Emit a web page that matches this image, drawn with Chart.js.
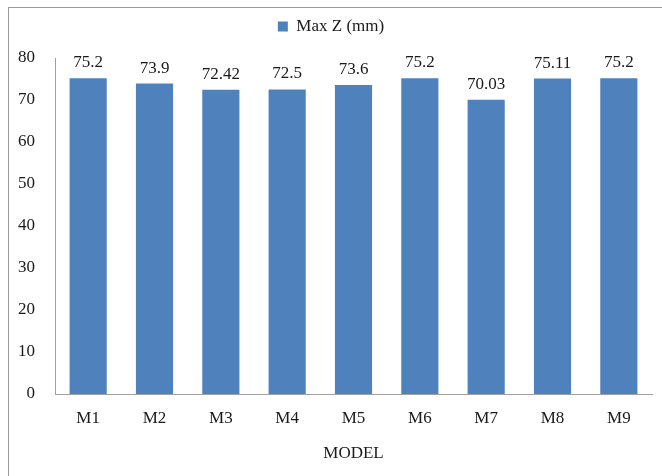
<!DOCTYPE html>
<html>
<head>
<meta charset="utf-8">
<script src="https://cdn.jsdelivr.net/npm/chart.js@4"></script>
<style>
  html, body { margin: 0; padding: 0; background: #fff; }
  #wrap { position: relative; width: 662px; height: 476px; overflow: hidden; }
  #frame { position: absolute; left: 8px; top: 7px; width: 700px; height: 520px;
           border-top: 1px solid #9a9a9a; border-left: 1px solid #9a9a9a; }
  canvas { position: absolute; left: 0; top: 0; }
</style>
</head>
<body>
<div id="wrap">
  <div id="frame"></div>
  <canvas id="c" width="662" height="476"></canvas>
</div>
<script>
const models = ['M1', 'M2', 'M3', 'M4', 'M5', 'M6', 'M7', 'M8', 'M9'];
const maxZ = [75.2, 73.9, 72.42, 72.5, 73.6, 75.2, 70.03, 75.11, 75.2];
const seriesName = 'Max Z (mm)';
const axisTitle = 'MODEL';

const serif = '"Liberation Serif", "Times New Roman", serif';

// Prints each bar's value above it
const valueLabels = {
  id: 'valueLabels',
  afterDatasetsDraw(chart) {
    const ctx = chart.ctx;
    const meta = chart.getDatasetMeta(0);
    ctx.save();
    ctx.font = '17px ' + serif;
    ctx.fillStyle = '#1a1a1a';
    ctx.textAlign = 'center';
    ctx.textBaseline = 'bottom';
    meta.data.forEach((bar, i) => {
      ctx.fillText(String(maxZ[i]), bar.x, bar.y - 7);
    });
    ctx.restore();
  }
};

// Reserves a fixed band for the legend so the plot starts lower
const legendBand = {
  id: 'legendBand',
  afterInit(chart) {
    const lg = chart.legend;
    if (!lg) return;
    const fit = lg.fit.bind(lg);
    lg.fit = function () { fit(); this.height = 52; };
  }
};

new Chart(document.getElementById('c'), {
  type: 'bar',
  data: {
    labels: models,
    datasets: [{
      label: seriesName,
      data: maxZ,
      backgroundColor: '#4F81BD',
      borderWidth: 0,
      barPercentage: 0.56,
      categoryPercentage: 1.0
    }]
  },
  options: {
    responsive: false,
    animation: false,
    layout: { padding: { left: 10, right: 10, top: 6, bottom: 0 } },
    plugins: {
      legend: {
        display: true,
        position: 'top',
        labels: {
          boxWidth: 10,
          boxHeight: 10,
          padding: 12,
          color: '#1a1a1a',
          font: { family: serif, size: 17 }
        }
      },
      tooltip: { enabled: false }
    },
    scales: {
      x: {
        grid: { display: false },
        border: { display: true, color: '#a0a0a0', width: 1 },
        ticks: { color: '#1a1a1a', font: { family: serif, size: 17 }, padding: 6 },
        title: { display: true, text: axisTitle, color: '#1a1a1a',
                 font: { family: serif, size: 17 }, padding: { top: 8, bottom: 12 } },
        afterFit(scale) { scale.height = 82; }
      },
      y: {
        min: 0,
        max: 80,
        grid: { display: false },
        border: { display: true, color: '#a0a0a0', width: 1 },
        ticks: { stepSize: 10, color: '#1a1a1a', font: { family: serif, size: 17 }, padding: 12 },
        afterFit(scale) { scale.width = 45; }
      }
    }
  },
  plugins: [legendBand, valueLabels]
});
</script>
</body>
</html>
